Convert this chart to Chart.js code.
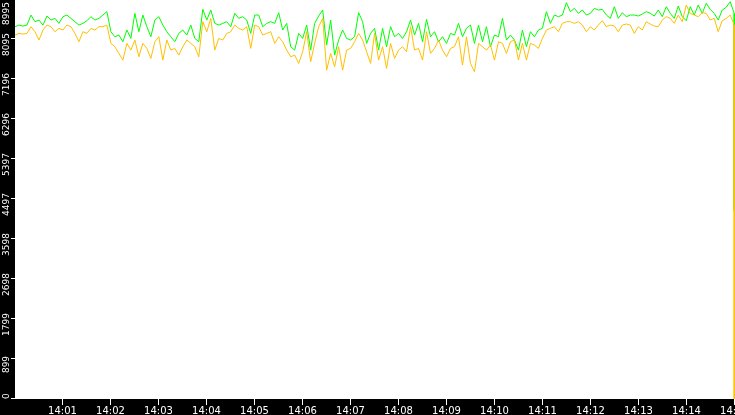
<!DOCTYPE html>
<html>
<head>
<meta charset="utf-8">
<script src="https://cdn.jsdelivr.net/npm/chart.js@4.4.1/dist/chart.umd.min.js"></script>
<style>
  html, body { margin: 0; padding: 0; background: #000; }
  #wrap { width: 735px; height: 415px; position: relative; }
</style>
</head>
<body>
<div id="wrap"><canvas id="rateChart"></canvas></div>
<script>
// 1. DATA (one sample every 5 s from 14:00:00 to 14:15:00)
const stepSec = 5;
const endSec = 900;

const xTickLabels = ['14:01', '14:02', '14:03', '14:04', '14:05', '14:06', '14:07', '14:08',
                     '14:09', '14:10', '14:11', '14:12', '14:13', '14:14', '14:15'];
const yTickLabels = ['0', '899', '1799', '2698', '3598', '4497', '5397', '6296', '7196', '8095', '8995'];
const yStep = 899.5;
const yMax = 8995;

// upper (green) series
const greenSeries = [
  8393, 8430, 8408, 8430, 8656, 8506, 8543, 8430, 8634, 8543, 8581, 8468, 8619, 8656, 8581, 8506, 8430, 8468,
  8528, 8619, 8543, 8581, 8656, 8732, 8280, 8167, 8205, 8054, 8318, 8129, 8694, 8280, 8656, 8393, 8167, 8543,
  8619, 8430, 8280, 8167, 8054, 8242, 8318, 8205, 8430, 8129, 8054, 8784, 8543, 8769, 8468, 8430, 8468, 8506,
  8393, 8694, 8581, 8619, 8543, 8242, 8656, 8656, 8393, 8468, 8506, 8468, 8709, 8318, 8468, 7941, 7866, 8242,
  8129, 8430, 7866, 8468, 8634, 8769, 7979, 8543, 7753, 8092, 8318, 8129, 8092, 8167, 8709, 8506, 8017, 8242,
  8355, 7866, 8355, 7941, 8393, 8167, 8242, 8129, 8280, 8543, 8205, 8468, 8054, 8558, 8167, 8280, 8054, 8167,
  8017, 8242, 8205, 8468, 8167, 8355, 8430, 8017, 8430, 8054, 8393, 7941, 8205, 8167, 8581, 8092, 8205, 8092,
  7866, 8318, 7941, 8280, 8167, 8318, 8355, 8732, 8468, 8656, 8619, 8656, 8935, 8732, 8807, 8694, 8769, 8656,
  8694, 8807, 8769, 8784, 8656, 8581, 8844, 8581, 8709, 8619, 8656, 8656, 8634, 8679, 8732, 8694, 8634, 8769,
  8619, 8844, 8694, 8581, 8860, 8619, 8528, 8844, 8656, 8882, 8694, 8920, 8784, 8694, 8543, 8769, 8829, 8957,
  8694
];
// lower (orange) series
const orangeSeries = [
  8205, 8242, 8227, 8242, 8393, 8280, 8092, 8318, 8430, 8393, 8280, 8355, 8318, 8430, 8393, 8242, 8054, 8280,
  8242, 8355, 8318, 8393, 8393, 8430, 8017, 7941, 7791, 7640, 8017, 7866, 8092, 7715, 8017, 7904, 7678, 8054,
  8167, 7640, 8092, 7866, 7904, 7753, 7941, 8092, 8017, 7941, 7715, 8506, 8280, 8581, 7866, 8129, 8092, 8242,
  8280, 8430, 8355, 8318, 8393, 7904, 8430, 8393, 8205, 8242, 8280, 8017, 8167, 8054, 7866, 7715, 7753, 7565,
  7828, 8280, 7602, 8017, 8393, 8581, 7414, 7791, 7490, 7941, 7414, 7866, 7904, 8054, 8242, 8092, 7828, 7565,
  8242, 7640, 7941, 7452, 8017, 7678, 7866, 7941, 7828, 8393, 7866, 7904, 7640, 8280, 7791, 7904, 8092, 7866,
  7715, 7904, 7941, 8167, 7527, 8167, 7565, 7377, 8017, 7941, 7866, 7979, 7640, 8054, 8017, 7791, 8054, 8092,
  7640, 8017, 7640, 8017, 7979, 7904, 8129, 8318, 8355, 8393, 8280, 8468, 8506, 8506, 8468, 8506, 8430, 8280,
  8393, 8318, 8430, 8528, 8393, 8430, 8408, 8280, 8430, 8453, 8430, 8242, 8393, 8318, 8506, 8453, 8408, 8393,
  8543, 8619, 8581, 8468, 8656, 8506, 8882, 8694, 8656, 8619, 8709, 8694, 8543, 8581, 8280, 8528, 8581, 8656,
  8430
];
// both series fall away in the very last sample
const greenLast = 4253;
const orangeLast = 0;

// 2. HELPERS
function toPoints(values, lastValue) {
    const pts = values.map((v, i) => ({ x: i * stepSec, y: v }));
    pts.push({ x: endSec, y: lastValue });
    return pts;
}

// Black frame, white plot, hand-drawn ticks (y labels are rotated)
const framePlugin = {
    id: 'frame',
    beforeDraw(chart) {
        const { ctx, chartArea: a } = chart;
        ctx.save();
        ctx.fillStyle = '#000';
        ctx.fillRect(0, 0, chart.width, chart.height);
        ctx.fillStyle = '#fff';
        ctx.fillRect(a.left, a.top, a.right - a.left, a.bottom - a.top);
        ctx.restore();
    },
    afterDraw(chart) {
        const { ctx, chartArea: a } = chart;
        const xs = chart.scales.x;
        const ys = chart.scales.y;
        ctx.save();
        ctx.strokeStyle = '#fff';
        ctx.fillStyle = '#fff';
        ctx.lineWidth = 1;

        // x axis: minute ticks
        ctx.font = '10px "DejaVu Sans"';
        ctx.textAlign = 'center';
        ctx.textBaseline = 'alphabetic';
        xTickLabels.forEach((lbl, i) => {
            const px = Math.floor(xs.getPixelForValue((i + 1) * 60)) + 0.5;
            ctx.beginPath();
            ctx.moveTo(px, a.bottom);
            ctx.lineTo(px, a.bottom + 6);
            ctx.stroke();
            ctx.fillText(lbl, px, chart.height - 1);
        });

        // y axis: rotated value labels
        ctx.font = '9px "DejaVu Sans"';
        ctx.textBaseline = 'middle';
        yTickLabels.forEach((lbl, i) => {
            const py = Math.floor(ys.getPixelForValue(i * yStep)) - 0.5;
            ctx.beginPath();
            ctx.moveTo(a.left - 4, py);
            ctx.lineTo(a.left, py);
            ctx.stroke();

            const w = ctx.measureText(lbl).width;
            let c = py + 6;
            c = Math.max(2 + w / 2, Math.min(a.bottom - w / 2, c));
            ctx.save();
            ctx.translate(6.5, c);
            ctx.rotate(-Math.PI / 2);
            ctx.fillText(lbl, 0, 0);
            ctx.restore();
        });
        ctx.restore();
    }
};

// 3. CHART
const ctx = document.getElementById('rateChart').getContext('2d');

new Chart(ctx, {
    type: 'line',
    data: {
        datasets: [
            {
                label: 'Lower',
                data: toPoints(orangeSeries, orangeLast),
                borderColor: '#ffc000',
                borderWidth: 1,
                pointRadius: 0,
                tension: 0,
                order: 0
            },
            {
                label: 'Upper',
                data: toPoints(greenSeries, greenLast),
                borderColor: '#00ff00',
                borderWidth: 1,
                pointRadius: 0,
                tension: 0,
                order: 1
            }
        ]
    },
    options: {
        responsive: true,
        maintainAspectRatio: false,
        devicePixelRatio: 1,
        animation: false,
        layout: { padding: { left: 15, right: 0, top: 0, bottom: 16 } },
        scales: {
            x: { type: 'linear', min: 0, max: 901, display: false },
            y: { min: 0, max: yMax, display: false }
        },
        plugins: {
            legend: { display: false },
            tooltip: { enabled: false }
        }
    },
    plugins: [framePlugin]
});
</script>
</body>
</html>
